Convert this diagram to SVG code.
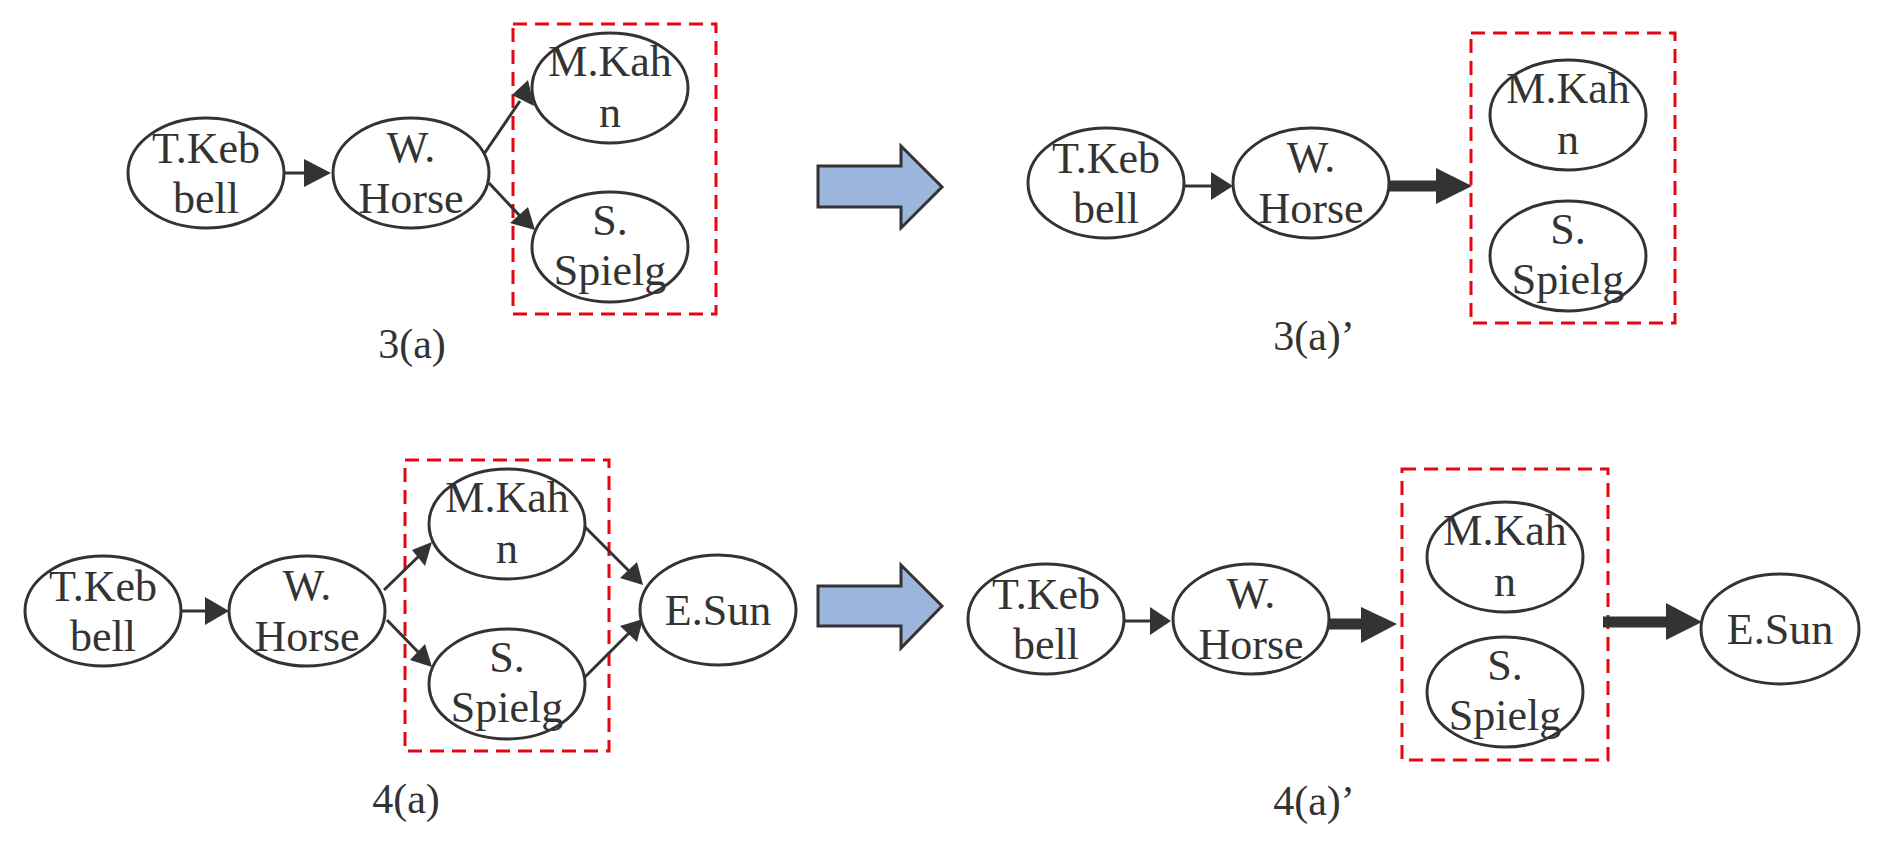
<svg xmlns="http://www.w3.org/2000/svg" width="1877" height="841" viewBox="0 0 1877 841">
<defs>
<style>
.n{fill:#fff;stroke:#333;stroke-width:3}
.t{font-family:"Liberation Serif",serif;font-size:44px;fill:#333;text-anchor:middle}
.lb{font-family:"Liberation Serif",serif;font-size:42px;fill:#333;text-anchor:middle}
.e{stroke:#333;stroke-width:3;fill:none}
.th{stroke:#333;stroke-width:11;fill:none}
.box{fill:none;stroke:#e30613;stroke-width:3;stroke-dasharray:14 8}
.big{fill:#9bb5dc;stroke:#333;stroke-width:3}
</style>
<marker id="a" markerWidth="10" markerHeight="10" refX="9" refY="5" orient="auto" markerUnits="userSpaceOnUse" viewBox="0 0 10 10"><path d="M0,0L10,5L0,10z" fill="#333"/></marker>
</defs>
<rect width="1877" height="841" fill="#fff"/>
<g id="boxes">
<rect class="box" x="513" y="24" width="203" height="290"/>
<rect class="box" x="1471" y="33" width="204" height="290"/>
<rect class="box" x="405" y="460" width="204" height="291"/>
<rect class="box" x="1402" y="469" width="206" height="291"/>
</g>
<g id="bigarrows">
<path class="big" d="M818,166H901V146L942,187L901,228V207H818Z"/>
<path class="big" d="M818,586H901V565L942,606L901,648V626H818Z"/>
</g>
<g id="connectors">
<path d="M283,173H304" class="e"/><path d="M304,159L331,173L304,187z" fill="#333"/>
<path d="M484,154L520,101" class="e"/><path d="M512,95L534,106L528,80z" fill="#333" transform="translate(0,0)"/>
<path d="M489,183L520,216" class="e"/><path d="M510,223L535,230L528,207z" fill="#333"/>
<path d="M1185,186H1212" class="e"/><path d="M1211,172L1233,186L1211,200z" fill="#333"/>
<path d="M1388,186H1438" class="th"/><path d="M1436,168L1472,186L1436,204z" fill="#333"/>
<path d="M180,611H205" class="e"/><path d="M205,597L229,611L205,625z" fill="#333"/>
<path d="M384,590L420,555" class="e"/><path d="M412,550L432,542L425,566z" fill="#333"/>
<path d="M387,620L420,654" class="e"/><path d="M410,660L432,667L425,644z" fill="#333"/>
<path d="M585,527L630,572" class="e"/><path d="M620,578L643,585L637,562z" fill="#333"/>
<path d="M585,677L630,632" class="e"/><path d="M620,626L643,619L637,642z" fill="#333"/>
<path d="M1124,621H1150" class="e"/><path d="M1150,607L1171,621L1150,635z" fill="#333"/>
<path d="M1326,624H1363" class="th"/><path d="M1361,607L1397,624L1361,643z" fill="#333"/>
<path d="M1603,622H1668" class="th"/><path d="M1666,603L1702,622L1666,640z" fill="#333"/>
</g>
<g id="n1"><ellipse class="n" cx="206" cy="173" rx="78" ry="55"/><text class="t" x="206" y="163">T.Keb</text><text class="t" x="206" y="213">bell</text></g>
<g id="n2"><ellipse class="n" cx="411" cy="173" rx="78" ry="55"/><text class="t" x="411" y="162">W.</text><text class="t" x="411" y="213">Horse</text></g>
<g id="n3"><ellipse class="n" cx="610" cy="88" rx="78" ry="55"/><text class="t" x="610" y="76">M.Kah</text><text class="t" x="610" y="127">n</text></g>
<g id="n4"><ellipse class="n" cx="610" cy="247" rx="78" ry="55"/><text class="t" x="610" y="235">S.</text><text class="t" x="610" y="285">Spielg</text></g>
<g id="n5"><ellipse class="n" cx="1106" cy="183" rx="78" ry="55"/><text class="t" x="1106" y="173">T.Keb</text><text class="t" x="1106" y="223">bell</text></g>
<g id="n6"><ellipse class="n" cx="1311" cy="183" rx="78" ry="55"/><text class="t" x="1311" y="172">W.</text><text class="t" x="1311" y="223">Horse</text></g>
<g id="n7"><ellipse class="n" cx="1568" cy="115" rx="78" ry="55"/><text class="t" x="1568" y="103">M.Kah</text><text class="t" x="1568" y="154">n</text></g>
<g id="n8"><ellipse class="n" cx="1568" cy="256" rx="78" ry="55"/><text class="t" x="1568" y="244">S.</text><text class="t" x="1568" y="294">Spielg</text></g>
<g id="n9"><ellipse class="n" cx="103" cy="611" rx="78" ry="55"/><text class="t" x="103" y="601">T.Keb</text><text class="t" x="103" y="651">bell</text></g>
<g id="n10"><ellipse class="n" cx="307" cy="611" rx="78" ry="55"/><text class="t" x="307" y="600">W.</text><text class="t" x="307" y="651">Horse</text></g>
<g id="n11"><ellipse class="n" cx="507" cy="524" rx="78" ry="55"/><text class="t" x="507" y="512">M.Kah</text><text class="t" x="507" y="563">n</text></g>
<g id="n12"><ellipse class="n" cx="507" cy="684" rx="78" ry="55"/><text class="t" x="507" y="672">S.</text><text class="t" x="507" y="722">Spielg</text></g>
<g id="n13"><ellipse class="n" cx="718" cy="610" rx="78" ry="55"/><text class="t" x="718" y="625">E.Sun</text></g>
<g id="n14"><ellipse class="n" cx="1046" cy="619" rx="78" ry="55"/><text class="t" x="1046" y="609">T.Keb</text><text class="t" x="1046" y="659">bell</text></g>
<g id="n15"><ellipse class="n" cx="1251" cy="619" rx="78" ry="55"/><text class="t" x="1251" y="608">W.</text><text class="t" x="1251" y="659">Horse</text></g>
<g id="n16"><ellipse class="n" cx="1505" cy="557" rx="78" ry="55"/><text class="t" x="1505" y="545">M.Kah</text><text class="t" x="1505" y="596">n</text></g>
<g id="n17"><ellipse class="n" cx="1505" cy="692" rx="78" ry="55"/><text class="t" x="1505" y="680">S.</text><text class="t" x="1505" y="730">Spielg</text></g>
<g id="n18"><ellipse class="n" cx="1780" cy="629" rx="79" ry="55"/><text class="t" x="1780" y="644">E.Sun</text></g>
<g id="labels">
<text class="lb" x="412" y="358">3(a)</text>
<text class="lb" x="1314" y="350">3(a)’</text>
<text class="lb" x="406" y="813">4(a)</text>
<text class="lb" x="1314" y="815">4(a)’</text>
</g>
</svg>
